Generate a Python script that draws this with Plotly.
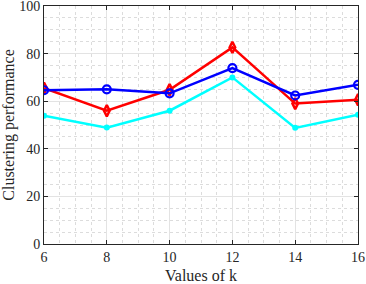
import plotly.graph_objects as go

k_values = [6, 8, 10, 12, 14, 16]
red_values = [65.5, 56.0, 64.8, 82.6, 59.0, 60.6]
blue_values = [64.6, 65.0, 63.3, 73.9, 62.4, 66.9]
cyan_values = [53.9, 48.9, 56.0, 70.0, 48.8, 54.3]

fig = go.Figure()
fig.add_trace(go.Scatter(x=k_values, y=red_values, mode="lines+markers",
                         line=dict(color="#ff0000", width=2.5),
                         marker=dict(symbol="diamond-tall-open", size=8, color="#ff0000", line=dict(width=2.5))))
fig.add_trace(go.Scatter(x=k_values, y=blue_values, mode="lines+markers",
                         line=dict(color="#0000ff", width=2.5),
                         marker=dict(symbol="circle-open", size=8, color="#0000ff", line=dict(width=2.2))))
fig.add_trace(go.Scatter(x=k_values, y=cyan_values, mode="lines+markers",
                         line=dict(color="#00ffff", width=2.5),
                         marker=dict(symbol="circle", size=6, color="#00ffff")))

axis_common = dict(
    showline=True, linecolor="#262626", linewidth=1, mirror="allticks",
    ticks="inside", ticklen=4, tickcolor="#262626",
    showgrid=True, gridcolor="#e3e3e3", gridwidth=1,
    zeroline=False, automargin=False, ticklabeloverflow="allow",
    tickfont=dict(family="Liberation Serif", size=14, color="#262626"),
)

fig.update_xaxes(range=[6, 16], tickvals=k_values, ticktext=[str(v) for v in k_values],
                 title=dict(text="Values of k", font=dict(family="Liberation Serif", size=16, color="#262626")),
                 minor=dict(dtick=0.5, showgrid=True, gridcolor="#dcdcdc", griddash="dot", ticks=""),
                 **axis_common)
fig.update_yaxes(range=[0, 100], tickvals=[0, 20, 40, 60, 80, 100],
                 title=dict(text="Clustering performance", font=dict(family="Liberation Serif", size=16, color="#262626")),
                 minor=dict(dtick=5, showgrid=True, gridcolor="#dcdcdc", griddash="dot", ticks=""),
                 **axis_common)

fig.update_layout(width=366, height=284, margin=dict(l=44, r=8, t=6, b=40),
                  plot_bgcolor="white", paper_bgcolor="white", showlegend=False)

fig.write_html("out.html", config={"displayModeBar": False},
               post_script="document.body.style.margin='0';document.body.style.overflow='hidden';")
